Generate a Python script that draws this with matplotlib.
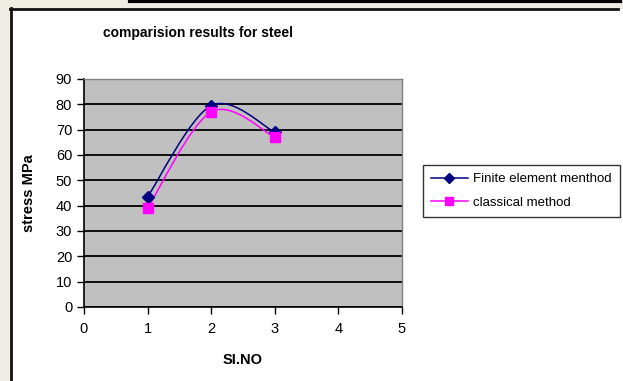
import numpy as np
import matplotlib
matplotlib.use('Agg')
import matplotlib.pyplot as plt
from matplotlib.path import Path
from matplotlib.patches import PathPatch, Rectangle
from matplotlib.lines import Line2D

plt.rcParams['font.family'] = ['Liberation Sans', 'DejaVu Sans']

# data
sl_no = [1, 2, 3]
fem_stress = [43.5, 79.5, 69]
classical_stress = [39, 77, 67]
series_names = ['Finite element menthod', 'classical method']
x_ticks = [0, 1, 2, 3, 4, 5]
y_ticks = [0, 10, 20, 30, 40, 50, 60, 70, 80, 90]


def smooth_path(xs, ys):
	# excel style smoothed line: bezier segments with catmull-rom control points
	pts = np.column_stack([xs, ys]).astype(float)
	n = len(pts)
	verts = [pts[0]]
	codes = [Path.MOVETO]
	for i in range(n - 1):
		p0 = pts[i - 1] if i > 0 else pts[i]
		p1 = pts[i]
		p2 = pts[i + 1]
		p3 = pts[i + 2] if i + 2 < n else pts[i + 1]
		c1 = p1 + (p2 - p0) / 6.0
		c2 = p2 - (p3 - p1) / 6.0
		verts += [c1, c2, p2]
		codes += [Path.CURVE4] * 3
	return Path(verts, codes)


fig = plt.figure(figsize=(6.23, 3.81), dpi=100)
W, H = 623, 381

# beige backdrop bits and black frame of the embedded chart
fig.patches.append(Rectangle((0, 0), 10 / W, 1, transform=fig.transFigure, color='#efece3', zorder=0))
fig.patches.append(Rectangle((0, 1 - 8 / H), 1, 8 / H, transform=fig.transFigure, color='#efece3', zorder=0))
fig.lines.append(Line2D([10.5 / W, 10.5 / W], [0, 1 - 8 / H], transform=fig.transFigure, color='#111111', lw=2))
fig.lines.append(Line2D([10 / W, 618 / W], [1 - 8.5 / H, 1 - 8.5 / H], transform=fig.transFigure, color='#111111', lw=2))
fig.lines.append(Line2D([130 / W, 620 / W], [1 - 1 / H, 1 - 1 / H], transform=fig.transFigure, color='#000000', lw=3))

ax = fig.add_axes([84 / W, 1 - 307 / H, (402 - 84) / W, (307 - 79) / H])
ax.set_facecolor('#c0c0c0')
ax.set_xlim(0, 5)
ax.set_ylim(0, 90)
ax.set_xticks(x_ticks)
ax.set_yticks(y_ticks)
ax.tick_params(axis='both', direction='out', length=5, width=1, labelsize=10.5, colors='black')
ax.tick_params(axis='x', pad=6)
ax.grid(axis='y', color='black', lw=1.3)
ax.set_axisbelow(True)
for s in ['top', 'right']:
	ax.spines[s].set_color('#808080')
	ax.spines[s].set_linewidth(1)
for s in ['left', 'bottom']:
	ax.spines[s].set_color('black')
	ax.spines[s].set_linewidth(1.2)

colors = ['#000080', '#ff00ff']
markers = ['D', 's']
msizes = [6, 7]
handles = []
for ys, c, m, ms, name in zip([fem_stress, classical_stress], colors, markers, msizes, series_names):
	ax.add_patch(PathPatch(smooth_path(sl_no, ys), facecolor='none', edgecolor=c, lw=1.1, zorder=3))
	ax.plot(sl_no, ys, ls='none', marker=m, ms=ms, color=c, zorder=4)
	handles.append(Line2D([], [], color=c, lw=1.1, marker=m, ms=ms - 1, label=name))

ax.set_xlabel('SI.NO', fontsize=10.5, fontweight='bold', labelpad=12)
ax.set_ylabel('stress MPa', fontsize=10.5, fontweight='bold', labelpad=14)
fig.text(198 / W, 1 - 33 / H, 'comparision results for steel', ha='center', va='center',
	fontsize=10, fontweight='bold')

leg = fig.legend(handles=handles, loc='upper left', bbox_to_anchor=(423 / W, 1 - 165 / H),
	frameon=True, fancybox=False, edgecolor='black', fontsize=9.5, handlelength=2.8,
	borderpad=0.6, labelspacing=0.85, handletextpad=0.4, borderaxespad=0)
leg.get_frame().set_linewidth(1)

fig.savefig('out.png', dpi=100)
